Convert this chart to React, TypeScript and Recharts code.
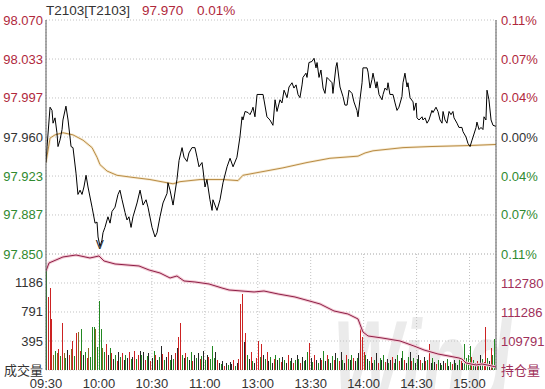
import React from 'react';
import { ComposedChart, Line, Bar, Cell, XAxis, YAxis, CartesianGrid, ReferenceDot } from 'recharts';

// ---- data ----
const titleCode = 'T2103[T2103]';
const lastPrice = '97.970';
const lastChange = '0.01%';
const prevSettle = 97.96;

const timeTicks = [0, 30, 60, 90, 120, 150, 180, 210, 240];
const timeLabels = ['09:30', '10:00', '10:30', '11:00', '13:00', '13:30', '14:00', '14:30', '15:00'];
const gridTicks = [30, 60, 90, 120, 150, 180, 210, 240];

const priceTicks = [97.85, 97.8867, 97.9233, 97.96, 97.9967, 98.0333, 98.07];
const priceTickLabels = ['97.850', '97.887', '97.923', '97.960', '97.997', '98.033', '98.070'];
const pctTickLabels = ['0.11%', '0.07%', '0.04%', '0.00%', '0.04%', '0.07%', '0.11%'];

const volTicks = [0, 395.33, 790.67, 1186];
const volTickLabels = ['成交量', '395', '791', '1186'];
const volMax = 1581.33;
const oiTicks = [108296.5, 109791, 111285.5, 112780];
const oiTickLabels = ['持仓量', '109791', '111286', '112780'];
const oiDomain = [108296.5, 114274.5];

// [minute since 09:30 (trading minutes), price]
const pricePoints: [number, number][] = [
  [0,97.936],[0.6,97.951],[2.3,97.988],[3.4,97.985],[4,97.973],[5.1,97.978],[6.2,97.964],[6.8,97.951],[7.9,97.957],[9.1,97.967],
  [9.6,97.976],[11.3,97.989],[12.5,97.976],[14.2,97.951],[15.3,97.950],[17,97.926],[18.1,97.906],[19.3,97.910],[20.4,97.906],[21.5,97.913],
  [22.7,97.924],[23.8,97.913],[26.1,97.894],[27.8,97.879],[28.9,97.880],[29.5,97.866],[30.6,97.857],[31.7,97.863],[32.3,97.870],[33.4,97.875],
  [34.6,97.882],[35.1,97.885],[36.3,97.879],[37.4,97.890],[39.1,97.894],[40.8,97.906],[41.9,97.910],[43.1,97.901],[44.8,97.889],[45.9,97.882],
  [47,97.885],[48.2,97.875],[49.3,97.885],[51.6,97.898],[53.3,97.910],[54.4,97.901],[55,97.896],[56.7,97.901],[57.8,97.894],[60.1,97.875],
  [61.8,97.866],[62.9,97.870],[64.6,97.885],[66.3,97.898],[68.6,97.907],[69.1,97.917],[70.3,97.910],[72,97.896],[74.2,97.920],[75.4,97.938],
  [77.1,97.950],[78.2,97.941],[79.9,97.937],[81,97.945],[82.7,97.950],[84.4,97.950],[85.6,97.941],[86.7,97.932],[88.4,97.936],[89,97.929],
  [90.1,97.913],[91.2,97.920],[92.9,97.901],[94.1,97.891],[94.6,97.901],[96.9,97.891],[98.6,97.901],[100.3,97.917],[102.6,97.932],[104.3,97.940],
  [106,97.932],[108.2,97.941],[109.9,97.960],[111.1,97.979],[111.6,97.976],[112.8,97.984],[114.5,97.983],[115.6,97.981],[116.7,97.985],[117.3,97.988],
  [118.4,97.979],[119.6,98.000],[123,98.000],[125.2,97.979],[126.9,97.976],[128.6,97.971],[129.8,97.995],[130.9,97.984],[132.6,97.995],[133.7,97.992],
  [134.9,98.004],[136.6,97.997],[137.7,98.007],[139.4,98.011],[140.5,98.006],[141.7,98.009],[142.8,98.000],[143.9,97.997],[145.1,98.009],[145.6,98.016],
  [147.3,98.020],[147.9,98.016],[149,98.030],[150.7,98.031],[151.9,98.034],[153,98.025],[153.6,98.030],[154.7,98.016],[155.8,98.023],[157,98.006],
  [158.1,98.001],[159.2,98.016],[160.4,98.014],[162.1,98.011],[162.6,98.001],[164.3,98.026],[164.9,98.030],[166.6,98.007],[168.3,97.998],[169.4,97.990],
  [170.6,97.990],[171.7,98.004],[173.4,98.001],[174.5,97.993],[176.2,97.985],[176.8,97.979],[177.9,97.995],[179.1,98.011],[179.6,98.025],[181.9,98.025],
  [182.5,98.021],[183.6,98.006],[184.7,98.014],[185.3,98.020],[187,98.006],[187.6,98.012],[188.7,98.000],[190.4,97.995],[191,98.000],[192.1,98.006],
  [193.2,98.004],[193.8,98.011],[194.9,98.000],[196.6,98.000],[197.8,97.992],[198.9,97.985],[200,97.988],[201.7,97.998],[202.3,98.011],[203.4,98.020],
  [204.6,98.007],[205.1,98.011],[206.3,97.997],[208,97.993],[208.5,97.985],[209.7,97.992],[210.2,97.978],[211.4,97.976],[213.1,97.979],[213.6,97.976],
  [214.8,97.978],[215.9,97.973],[217,97.976],[218.7,97.985],[219.3,97.983],[221,97.988],[222.1,97.984],[223.3,97.976],[224.4,97.973],[225,97.984],
  [226.1,97.976],[227.2,97.973],[228.4,97.984],[229.5,97.981],[230.6,97.984],[231.2,97.978],[232.9,97.973],[234,97.969],[235.7,97.969],[236.3,97.965],
  [238,97.960],[239.1,97.954],[240.3,97.951],[241.4,97.957],[242,97.960],[243.7,97.969],[244.2,97.974],[245.4,97.967],[246.5,97.969],[247.6,97.967],
  [248.2,97.979],[249.3,97.976],[249.9,98.004],[251,97.995],[252.2,97.976],[253.3,97.971],[255,97.970],
];

const avgPoints: [number, number][] = [
  [0,97.936],[2.3,97.959],[5.1,97.962],[9.6,97.964],[15.3,97.962],[21,97.957],[26.1,97.950],[28.9,97.941],[30.6,97.934],[34.6,97.928],
  [40.2,97.924],[49.3,97.922],[58.9,97.920],[68.6,97.917],[72,97.916],[75.9,97.918],[87.3,97.920],[100.3,97.920],[108.8,97.919],[111.6,97.924],
  [121.3,97.927],[134.3,97.931],[147.9,97.936],[160.9,97.940],[176.8,97.942],[180.8,97.945],[185.3,97.947],[202.3,97.950],[217.6,97.951],[240.3,97.952],
  [255,97.953],
];

const oiPoints: [number, number][] = [
  [0,113399],[1.7,113811],[9.6,114120],[17,114223],[24.9,114069],[30,114172],[32.9,113914],[39.1,113760],[52.7,113657],[58.4,113451],
  [64.6,113296],[70.3,113038],[74.2,113141],[78.2,112884],[84.4,112832],[92.4,112729],[99.7,112523],[103.7,112420],[117.9,112317],[123.5,112368],
  [131.5,112214],[141.1,112059],[151.3,111802],[155.3,111699],[163.2,111338],[171.1,111183],[176.8,110926],[179.6,110256],[182.5,110050],[190.4,109947],
  [200.6,109792],[208.5,109534],[214.2,109328],[222.1,109122],[234,108916],[235.7,108864],[238,108658],[243.7,108555],[247,108607],[250,108555],
  [255,108452],
];

// one value per trading minute (m = 0..254)
const volumes = [
  1400, 1000, 1120, 700, 210, 260, 230, 280, 190, 640, 230, 160, 270, 210, 290,
  395, 190, 500, 520, 260, 560, 210, 250, 160, 300, 180, 586, 586, 560, 310,
  940, 560, 300, 250, 354, 210, 300, 230, 150, 200, 120, 250, 180, 230, 130,
  200, 160, 240, 150, 180, 260, 150, 210, 260, 200, 250, 140, 190, 230, 120,
  160, 260, 200, 130, 180, 327, 220, 140, 180, 240, 130, 200, 150, 230, 300,
  450, 640, 200, 160, 230, 180, 140, 250, 120, 200, 170, 230, 150, 190, 260,
  140, 210, 180, 150, 327, 160, 250, 140, 100, 80, 120, 60, 90, 70, 110,
  80, 130, 60, 100, 150, 900, 1040, 380, 500, 200, 150, 250, 120, 90, 160,
  395, 180, 354, 200, 150, 240, 120, 180, 100, 150, 200, 130, 160, 110, 180,
  140, 90, 200, 120, 160, 100, 130, 210, 150, 90, 180, 120, 140, 250, 368,
  160, 110, 200, 130, 90, 170, 140, 260, 120, 200, 150, 100, 190, 130, 230,
  160, 120, 240, 140, 100, 200, 150, 130, 210, 170, 120, 160, 230, 600, 450,
  250, 200, 150, 120, 180, 100, 140, 230, 90, 160, 130, 200, 110, 150, 90,
  130, 180, 100, 150, 200, 120, 170, 260, 140, 90, 180, 240, 120, 160, 100,
  150, 200, 130, 90, 180, 120, 140, 354, 100, 160, 110, 80, 140, 100, 70,
  120, 90, 150, 60, 110, 80, 130, 100, 70, 150, 120, 90, 354, 160, 200,
  327, 180, 140, 100, 120, 80, 200, 150, 110, 586, 160, 120, 300, 200, 420,
];
// r = up, g = down, k = flat, o = opening/mixed
const volColors =
  'grrrogorgrogkro' + 'rgrorgkgrogggog' + 'ggogrkgrkgrkgrk' + 'gkrgkrgrkgkrgkr' +
  'kgrkgkrgkrgkgrk' + 'rrgkrgkgrkgkrgk' + 'gkrgggkrkgkrkgk' + 'krgkrrrkrgkrgkr' +
  'rgrkgrkgkrgkgrk' + 'gkrgkrgkgrkgkgr' + 'kgrkgkrgkrgkgrk' + 'grkgkrgkgrkgkrr' +
  'rgkgrkgkrgkgrkg' + 'krgkgrkgrkgkrgk' + 'gkrgkrgrkgkrgkg' + 'krgkgrkgkgrkggg' +
  'grgkrgkgrrgkrgg';

// ---- styles ----
const FONT = '"Liberation Sans", Arial, "Noto Sans CJK SC", sans-serif';
const RED = '#b0283c';
const GREEN = '#2f8a2f';
const DARK = '#333333';
const OI_COL = '#a0305a';
const BORDER = '#5a5a5a';
const GRID = '#c2c2c2';
const barCol: Record<string, string> = { r: '#cc2222', g: '#228822', k: '#262626', o: '#8a6a20' };

const priceData = pricePoints.map(([m, p]) => ({ m, p }));
const avgData = avgPoints.map(([m, a]) => ({ m, a }));
const oiData = oiPoints.map(([m, oi]) => ({ m, oi }));
const volData = volumes.map((v, i) => ({ m: i, v }));

const PriceTick = (props: any) => {
  const { x, y, payload } = props;
  const i = priceTicks.indexOf(payload.value);
  const v = priceTicks[i];
  const col = v < prevSettle ? GREEN : v > prevSettle ? RED : DARK;
  return (
    <text x={x - 3} y={y} dy={4.5} textAnchor="end" fill={col} fontSize={13} fontFamily={FONT}>
      {priceTickLabels[i]}
    </text>
  );
};
const PctTick = (props: any) => {
  const { x, y, payload } = props;
  const i = priceTicks.indexOf(payload.value);
  const v = priceTicks[i];
  const col = v < prevSettle ? GREEN : v > prevSettle ? RED : DARK;
  return (
    <text x={x + 5} y={y} dy={4.5} textAnchor="start" fill={col} fontSize={13} fontFamily={FONT}>
      {pctTickLabels[i]}
    </text>
  );
};
const VolTick = (props: any) => {
  const { x, y, payload } = props;
  const i = volTicks.indexOf(payload.value);
  return (
    <text x={x - 3} y={y} dy={4.5} textAnchor="end" fill={DARK} fontSize={13} fontFamily={FONT}>
      {volTickLabels[i]}
    </text>
  );
};
const OiTick = (props: any) => {
  const { x, y, payload } = props;
  const i = oiTicks.indexOf(payload.value);
  return (
    <text x={x + 5} y={y} dy={4.5} textAnchor="start" fill={OI_COL} fontSize={13} fontFamily={FONT}>
      {oiTickLabels[i]}
    </text>
  );
};
const TimeTick = (props: any) => {
  const { x, y, payload } = props;
  const i = timeTicks.indexOf(payload.value);
  return (
    <text x={x} y={y} dy={17.5} textAnchor="middle" fill={DARK} fontSize={13} fontFamily={FONT}>
      {timeLabels[i]}
    </text>
  );
};

const VolBar = (props: any) => {
  const { x, y, width, height, fill } = props;
  if (!height || height <= 0) return null;
  const cx = Math.round(x + width / 2);
  return <rect x={cx} y={y} width={1} height={height} fill={fill} shapeRendering="crispEdges" />;
};

export default function App() {
  return (
    <div style={{ position: 'absolute', left: 0, top: 0, width: 545, height: 389, background: '#fff', overflow: 'hidden' }}>
      {/* watermark */}
      <svg width={545} height={389} style={{ position: 'absolute', left: 0, top: 0 }}>
        <text x={333} y={402} fontSize={116} fontWeight="bold" fontStyle="italic" fill="#ebebeb"
          fontFamily={FONT} textLength={178} lengthAdjust="spacingAndGlyphs">Wind</text>
      </svg>

      {/* price panel */}
      <div style={{ position: 'absolute', left: 0, top: 0 }}>
        <ComposedChart width={545} height={270} margin={{ top: 20, right: 0, bottom: 16, left: 0 }}>
          <CartesianGrid yAxisId="p" stroke={GRID} strokeDasharray="1 2" />
          <XAxis dataKey="m" type="number" domain={[0, 255]} ticks={gridTicks} tick={false} tickLine={false}
            axisLine={{ stroke: BORDER }} height={0} allowDataOverflow interval={0} />
          <XAxis xAxisId="top" orientation="top" dataKey="m" type="number" domain={[0, 255]} tick={false} tickLine={false}
            axisLine={{ stroke: BORDER }} height={0} allowDataOverflow />
          <YAxis yAxisId="p" type="number" domain={[97.85, 98.07]} ticks={priceTicks} interval={0} width={46}
            tickSize={0} tickMargin={0} tickLine={false} axisLine={{ stroke: BORDER }} tick={<PriceTick />} allowDataOverflow />
          <YAxis yAxisId="pct" orientation="right" type="number" domain={[97.85, 98.07]} ticks={priceTicks} interval={0} width={49}
            tickSize={0} tickMargin={0} tickLine={false} axisLine={{ stroke: BORDER }} tick={<PctTick />} allowDataOverflow />
          <Line xAxisId="top" yAxisId="pct" data={avgData} dataKey="a" type="linear" stroke="#f6ead2" strokeWidth={2.6}
            dot={false} activeDot={false} isAnimationActive={false} />
          <Line yAxisId="p" data={avgData} dataKey="a" type="linear" stroke="#b98c45" strokeWidth={1}
            dot={false} activeDot={false} isAnimationActive={false} />
          <Line yAxisId="p" data={priceData} dataKey="p" type="linear" stroke="#000" strokeWidth={1}
            dot={false} activeDot={false} isAnimationActive={false} />
          <ReferenceDot yAxisId="p" x={30.5} y={97.85} r={0} ifOverflow="visible"
            shape={(p: any) => (
              <text x={p.cx} y={p.cy - 5} textAnchor="middle" fontSize={12} fill="#222" fontFamily={FONT}>V</text>
            )} />
        </ComposedChart>
      </div>

      {/* volume / open interest panel */}
      <div style={{ position: 'absolute', left: 0, top: 240 }}>
        <ComposedChart width={545} height={149} data={volData} margin={{ top: 14, right: 0, bottom: 0, left: 0 }}>
          <CartesianGrid yAxisId="v" stroke={GRID} strokeDasharray="1 2" />
          <XAxis dataKey="m" type="number" domain={[0, 255]} ticks={timeTicks} interval={0} tickSize={0} tickMargin={0}
            tickLine={false} axisLine={false} height={19} tick={<TimeTick />} allowDataOverflow />
          <YAxis yAxisId="v" type="number" domain={[0, volMax]} ticks={volTicks} interval={0} width={46}
            tickSize={0} tickMargin={0} tickLine={false} axisLine={{ stroke: BORDER }} tick={<VolTick />} allowDataOverflow />
          <YAxis yAxisId="oi" orientation="right" type="number" domain={oiDomain} ticks={oiTicks} interval={0} width={49}
            tickSize={0} tickMargin={0} tickLine={false} axisLine={{ stroke: BORDER }} tick={<OiTick />} allowDataOverflow />
          <Bar yAxisId="v" dataKey="v" barSize={2} isAnimationActive={false} shape={<VolBar />}>
            {volData.map((d, i) => (
              <Cell key={i} fill={barCol[volColors[i] || 'k']} />
            ))}
          </Bar>
          <Line yAxisId="oi" data={oiData} dataKey="oi" type="linear" stroke="#f3cbd5" strokeWidth={3}
            dot={false} activeDot={false} isAnimationActive={false} />
          <Line yAxisId="oi" data={oiData} dataKey="oi" type="linear" stroke="#8e1f47" strokeWidth={1}
            dot={false} activeDot={false} isAnimationActive={false} />
        </ComposedChart>
      </div>

      {/* title */}
      <svg width={545} height={20} style={{ position: 'absolute', left: 0, top: 0 }}>
        <text x={46} y={15} fontSize={13.5} fill={DARK} fontFamily={FONT}>{titleCode}</text>
        <text x={142} y={15} fontSize={13.5} fill={RED} fontFamily={FONT}>{lastPrice}</text>
        <text x={197} y={15} fontSize={13.5} fill={RED} fontFamily={FONT}>{lastChange}</text>
      </svg>
    </div>
  );
}
